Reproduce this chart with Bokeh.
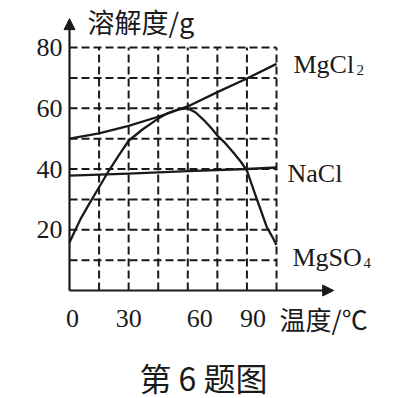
from bokeh.plotting import figure
from bokeh.models import Range1d, Arrow, NormalHead
from bokeh.core.properties import value
from bokeh.embed import file_html
from bokeh.resources import INLINE

# ---- data ----
mgcl2_t = [0, 15, 30, 45, 60, 75, 90, 105]
mgcl2_s = [50, 51.7, 54.2, 57.2, 60.6, 65.3, 69.8, 74.6]

nacl_t = [0, 30, 60, 90, 105]
nacl_s = [37.8, 38.5, 39.3, 40.0, 40.5]

mgso4_t = [0, 3, 6, 10, 15, 20, 25, 30, 37, 45, 50, 55, 60, 64, 68, 72, 75, 79, 83, 87, 90,
           94, 97, 100, 103, 105]
mgso4_s = [15.8, 20, 24, 28.5, 34, 39.5, 44.5, 49.3, 53, 56.6, 58.4, 59.6, 60, 58.6, 56.2, 53.4,
           51, 48.5, 45.5, 42.3, 39.5, 32, 26.5, 21, 17.5, 15]

x_grid = [15, 30, 45, 60, 75, 90, 105]
y_grid = [10, 20, 30, 40, 50, 60, 70, 80]
x_ticks = [0, 30, 60, 90]
y_ticks = [20, 40, 60, 80]
x_max, y_max = 105, 80
x_arrow, y_arrow = 134, 89.5

# ---- pixel layout ----
W, H = 400, 398
OX, OY = 69, 290          # pixel position of the origin
SX, SY = 207 / 105, 243 / 80  # pixels per unit


def dx(px):
    return (px - OX) / SX


def dy(py):
    return (OY - py) / SY


p = figure(width=W, height=H, x_range=Range1d(dx(0), dx(W)), y_range=Range1d(dy(H), dy(0)),
           x_axis_type=None, y_axis_type=None, toolbar_location=None,
           output_backend="svg", min_border=0)
p.outline_line_color = None
p.background_fill_color = "white"
p.border_fill_color = "white"

INK = "#1a1a1a"

# dashed grid
p.segment(x0=x_grid, y0=[0] * len(x_grid), x1=x_grid, y1=[y_max] * len(x_grid),
          line_color=INK, line_width=2, line_dash="8 4")
p.segment(x0=[0] * len(y_grid), y0=y_grid, x1=[x_max] * len(y_grid), y1=y_grid,
          line_color=INK, line_width=2, line_dash="8 4")

# axes with arrows
p.add_layout(Arrow(x_start=0, y_start=0, x_end=0, y_end=y_arrow, line_color=INK, line_width=2.2,
                   end=NormalHead(size=11, fill_color=INK, line_color=INK)))
p.add_layout(Arrow(x_start=0, y_start=0, x_end=x_arrow, y_end=0, line_color=INK, line_width=2.2,
                   end=NormalHead(size=11, fill_color=INK, line_color=INK)))

# curves
p.line(mgcl2_t, mgcl2_s, line_color=INK, line_width=2.3, line_join="round")
p.line(nacl_t, nacl_s, line_color=INK, line_width=2.3, line_join="round")
p.line(mgso4_t, mgso4_s, line_color=INK, line_width=2.3, line_join="round")

SERIF = value("Liberation Serif")
CJK = value("Noto Sans CJK SC")

# tick labels
p.text(x=[dx(62)] * len(y_ticks), y=y_ticks, text=[str(v) for v in y_ticks],
       text_font=SERIF, text_font_size="26px", text_align="right",
       text_baseline="middle", text_color=INK)
x_label_shift_px = [3, 0, 12, 6]
p.text(x=[t + s / SX for t, s in zip(x_ticks, x_label_shift_px)], y=[dy(318)] * len(x_ticks),
       text=[str(v) for v in x_ticks], text_font=SERIF, text_font_size="26px",
       text_align="center", text_baseline="middle", text_color=INK)

# axis titles
p.text(x=[dx(87)], y=[dy(21)], text=["溶解度/g"], text_font=CJK, text_font_size="27px",
       text_align="left", text_baseline="middle", text_color=INK)
p.text(x=[dx(279)], y=[dy(318)], text=["温度/℃"], text_font=CJK, text_font_size="26px",
       text_align="left", text_baseline="middle", text_color=INK)

# series names
p.text(x=[dx(293), dx(287), dx(292)], y=[dy(64), dy(173), dy(257)],
       text=["MgCl", "NaCl", "MgSO"], text_font=SERIF, text_font_size="26px",
       text_align="left", text_baseline="alphabetic", text_color=INK)
p.text(x=[dx(356), dx(363)], y=[dy(69), dy(262)], text=["2", "4"], text_font=SERIF,
       text_font_size="15px", text_align="left", text_baseline="alphabetic", text_color=INK)

# caption
p.text(x=[dx(203)], y=[dy(376)], text=["第 6 题图"], text_font=CJK, text_font_size="32px",
       text_align="center", text_baseline="middle", text_color=INK)

open("out.html", "w").write(file_html(p, INLINE))
